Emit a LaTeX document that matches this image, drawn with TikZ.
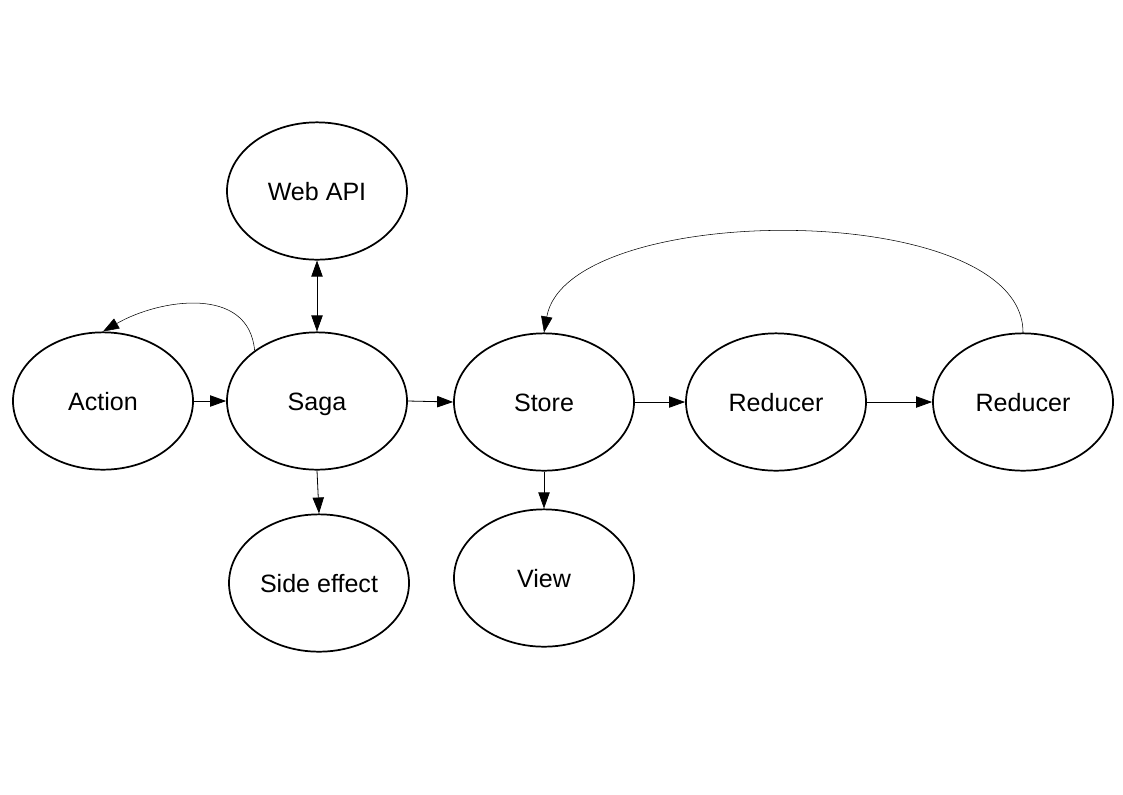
\documentclass[tikz,border=0pt]{standalone}
\usepackage{fontspec}
\setmainfont{Liberation Sans}
\usetikzlibrary{shapes.geometric,arrows.meta}

\begin{document}
\begin{tikzpicture}[x=0.75pt,y=-0.75pt]
\tikzstyle{blob} = [ellipse,draw,line width=1.3pt,minimum width=135pt,minimum height=103pt,inner sep=0pt,text height=13.5pt,text depth=0pt,font=\fontsize{18.8}{22}\selectfont]
\tikzstyle{link} = [-{Triangle[length=12pt,width=8.5pt]},line width=0.6pt]
\tikzstyle{loop} = [-{Triangle[length=12pt,width=8.5pt]},line width=0.4pt]
\useasboundingbox (0,0) rectangle (1123,794);
% nodes
\node[blob] (action) at (103,401) {Action};
\node[blob] (saga) at (317,401) {Saga};
\node[blob] (webapi) at (317,191) {Web API};
\node[blob] (side) at (319,583) {Side effect};
\node[blob] (store) at (544,402) {Store};
\node[blob] (view) at (544,578) {View};
\node[blob] (reducerA) at (776,402) {Reducer};
\node[blob] (reducerB) at (1023,402) {Reducer};
% connectors
\draw[link] (action) -- (saga);
\draw[link] (saga.east) -- (store.west);
\draw[link] (store) -- (reducerA);
\draw[link] (reducerA) -- (reducerB);
\draw[link] (saga.south) -- (side.north);
\draw[link] (store) -- (view);
\draw[link,{Triangle[length=12pt,width=8.5pt]}-{Triangle[length=12pt,width=8.5pt]}] (webapi) -- (saga);
\draw[loop] (saga.141) to[out=95,in=30,looseness=1.1] (action.north);
\draw[loop] (reducerB.north) to[out=90,in=80,looseness=0.72] (store.north);
\end{tikzpicture}
\end{document}
